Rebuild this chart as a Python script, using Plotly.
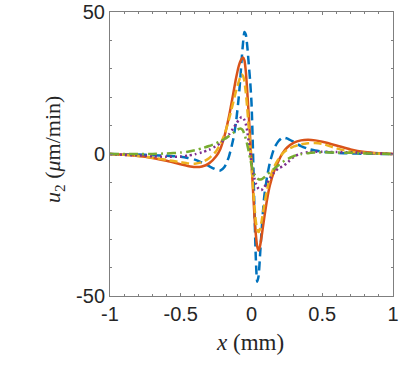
import plotly.graph_objects as go

# x positions (mm), denser around the dipole at the centre
x_mm = [-1, -0.9, -0.8, -0.7, -0.6, -0.5, -0.45, -0.4, -0.35, -0.3, -0.25, -0.22,
        -0.19, -0.16, -0.13, -0.11, -0.09, -0.08, -0.07, -0.06, -0.05, -0.04,
        -0.03, -0.02, -0.01, 0, 0.01, 0.02, 0.03, 0.04, 0.05, 0.06, 0.07, 0.08,
        0.09, 0.11, 0.13, 0.16, 0.19, 0.22, 0.25, 0.3, 0.35, 0.4, 0.45, 0.5,
        0.6, 0.7, 0.8, 0.9, 1]

# u2 (um/min) for each curve
u_blue = [0, -0.1, -0.2, -0.4, -0.6, -1.0, -1.4, -2.0, -3.0, -4.3, -5.5, -5.8,
          -4.5, -1.0, 5, 11, 20, 26, 33, 39, 43, 42,
          38, 32, 26, 18, 2, -18, -36, -45, -43, -36, -28, -21,
          -15, -8, -3, 2, 4.5, 5.8, 5.5, 4.2, 2.8, 1.8, 1.2, 0.8,
          0.4, 0.2, 0.1, 0.05, 0]
u_red = [0, -0.3, -0.7, -1.4, -2.4, -3.6, -4.2, -4.6, -4.4, -3.3, -0.8, 1.8,
         6.5, 13, 21, 26.5, 31, 32.5, 33.5, 34, 33, 29,
         22, 14, 6, -3, -12, -21, -28, -32.5, -34, -32.5, -29.5, -26,
         -22.5, -16, -11, -6, -2.5, 0.3, 2.2, 4, 4.8, 5, 4.8, 4.3,
         3, 1.6, 0.7, 0.25, 0]
u_yellow = [0, -0.3, -0.7, -1.3, -2.1, -2.9, -3.3, -3.4, -2.9, -1.5, 1, 3.5,
            7, 12, 18, 22, 25.5, 27, 28, 27.5, 25.5, 21.5,
            16, 9.5, 3, -4, -11, -18, -23.5, -26.5, -27.5, -26.5, -24, -21,
            -18, -12.5, -8.5, -4.5, -1.8, 0.2, 1.4, 2.7, 3.4, 3.8, 3.9, 3.6,
            2.0, 0.8, 0.4, 0.15, 0]
u_purple = [0, -0.3, -0.5, -0.8, -1, -0.9, -0.6, -0.1, 0.6, 1.5, 2.8, 3.8,
            5.2, 6.8, 9, 10.5, 12, 12.6, 13, 12.8, 12, 10.5,
            8, 4.5, 0.5, -3, -6, -8.5, -10.3, -11.5, -12.3, -12.7, -12.7, -12.3,
            -11.6, -10.2, -8.6, -6.5, -5, -4.4, -3.2, -1.0, 0.2, 0.6, 0.8, 0.8,
            0.7, 0.6, 0.4, 0.2, 0]
u_green = [0, 0, 0, 0, 0.2, 0.5, 0.8, 1.3, 2, 2.8, 3.8, 4.5,
           5.3, 6.3, 7.4, 8.3, 8.8, 9, 8.8, 8.2, 7, 5.3,
           3.3, 1, -1.5, -3.8, -5.6, -7, -8, -8.6, -8.9, -9, -8.9, -8.6,
           -8.2, -7.3, -6.4, -5.2, -4, -2.8, -1.9, -0.7, -0.1, 0.3, 0.5, 0.6,
           0.5, 0.4, 0.2, 0.1, 0]

series = [
    (u_blue, "#0072BD", "9px,5px"),
    (u_red, "#D95319", "solid"),
    (u_yellow, "#EDB120", "8px,4px"),
    (u_purple, "#7E2F8E", "2px,3px"),
    (u_green, "#77AC30", "9px,4px,2px,4px"),
]

fig = go.Figure()
for vals, color, dash in series:
    fig.add_trace(go.Scatter(
        x=x_mm, y=vals, mode="lines",
        line=dict(color=color, width=2.5, dash=dash, shape="spline", smoothing=0.6),
        showlegend=False,
    ))

tick_font = dict(family="Liberation Sans, Arial, sans-serif", size=20, color="#262626")
title_font = dict(family="Liberation Serif, Times New Roman, serif", size=22, color="#262626")

fig.update_xaxes(
    range=[-1, 1], tickvals=[-1, -0.5, 0, 0.5, 1], ticktext=["-1", "-0.5", "0", "0.5", "1"],
    ticks="inside", ticklen=3, tickcolor="#7f7f7f", ticklabeloverflow="allow",
    minor=dict(dtick=0.1, ticks="inside", ticklen=2, tickcolor="#7f7f7f"),
    showline=True, linecolor="#7f7f7f", linewidth=1, mirror="ticks",
    showgrid=False, zeroline=False, tickfont=tick_font, automargin=False,
)
fig.update_yaxes(
    range=[-50, 50], tickvals=[-50, 0, 50], ticktext=["-50", "0", "50"],
    ticks="inside", ticklen=3, tickcolor="#7f7f7f", ticklabelstandoff=0,
    ticklabeloverflow="allow",
    minor=dict(dtick=10, ticks="inside", ticklen=2, tickcolor="#7f7f7f"),
    showline=True, linecolor="#7f7f7f", linewidth=1, mirror="ticks",
    showgrid=False, zeroline=False, tickfont=tick_font, automargin=False,
)

# axis titles as annotations so they sit where the reference puts them
fig.add_annotation(text="<i>x</i> (mm)", xref="paper", yref="paper", x=0.5, y=0,
                   xanchor="center", yanchor="middle", xshift=-2, yshift=-46,
                   showarrow=False, font=dict(title_font, size=23))
fig.add_annotation(text="<i>u</i><sub>2</sub> (<i>μ</i>m/min)", xref="paper", yref="paper",
                   x=0, y=0.5, xanchor="center", yanchor="middle", xshift=-56, yshift=4,
                   textangle=-90, showarrow=False, font=title_font)

fig.update_layout(
    width=407, height=370, autosize=False,
    margin=dict(l=110, r=14, t=12, b=74),
    plot_bgcolor="white", paper_bgcolor="white",
)

# drop the browser's default 8px body margin so the figure fills the window
fig.write_html("out.html", config={"displayModeBar": False},
               post_script="document.body.style.margin='0';")
